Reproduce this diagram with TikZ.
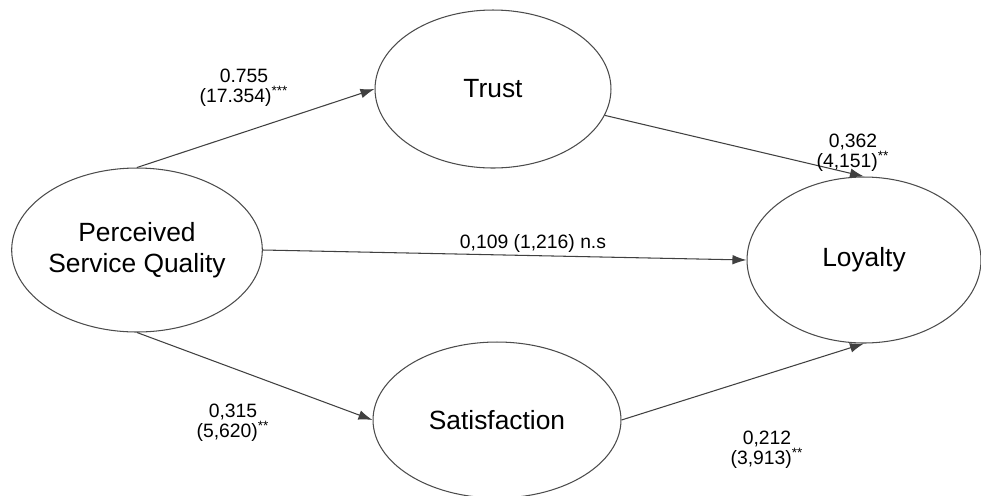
\documentclass[tikz,border=0pt]{standalone}
\usepackage{fontspec}
\setmainfont{Liberation Sans}
\usetikzlibrary{shapes.geometric,arrows.meta}

\begin{document}
\begin{tikzpicture}[x=0.02cm,y=-0.02cm,
  construct/.style={ellipse,draw=black!70,line width=0.6pt,inner sep=0pt,align=center,font=\fontsize{15}{18}\selectfont},
  link/.style={draw=black!75,line width=0.6pt,-{Latex[length=8pt,width=5.5pt]}},
  coef/.style={align=center,font=\fontsize{11}{11.5}\selectfont}]
\useasboundingbox (0,0) rectangle (981,495);
% constructs
\node[construct,minimum width=4.96cm,minimum height=3.28cm] (psq) at (137,250) {Perceived\\Service Quality};
\node[construct,minimum width=4.72cm,minimum height=3.16cm] (trust) at (493,89) {Trust};
\node[construct,minimum width=4.96cm,minimum height=3.12cm] (sat) at (497,420) {Satisfaction};
\node[construct,minimum width=4.68cm,minimum height=3.32cm] (loy) at (864,260) {Loyalty};
% paths
\draw[link] (psq.north) -- (trust.west);
\draw[link] (psq.east) -- (loy.west);
\draw[link] (psq.south) -- (sat.west);
\draw[link] (trust) -- (loy.north);
\draw[link] (sat.east) -- (loy.south);
% coefficients
\node[coef] (c1) at (244,88) {0.755\\(17.354)\textsuperscript{***}};
\node[coef] (c2) at (853,153) {0,362\\(4,151)\textsuperscript{**}};
\node[coef] (c3) at (533,243) {0,109 (1,216) n.s};
\node[coef] (c4) at (233,423) {0,315\\(5,620)\textsuperscript{**}};
\node[coef] (c5) at (767,450) {0,212\\(3,913)\textsuperscript{**}};
\end{tikzpicture}
\end{document}
